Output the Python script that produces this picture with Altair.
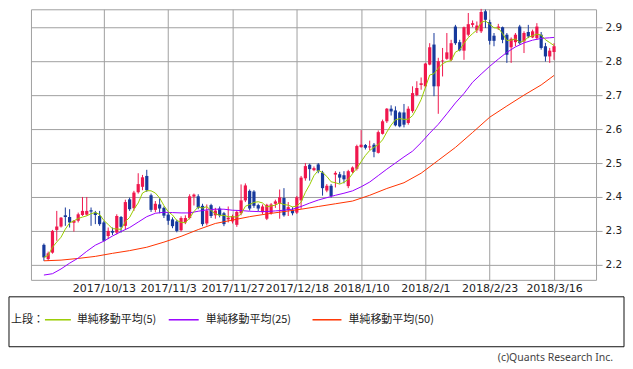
import altair as alt
import pandas as pd

# ---------------- data ----------------
opens = [2.259, 2.217, 2.236, 2.303, 2.313, 2.346, 2.341, 2.324, 2.330, 2.347,
         2.348, 2.361, 2.354, 2.344, 2.325, 2.285, 2.300, 2.295, 2.341, 2.315,
         2.393, 2.367, 2.414, 2.430, 2.462, 2.405, 2.362, 2.378, 2.368, 2.348,
         2.334, 2.328, 2.302, 2.325, 2.338, 2.401, 2.402, 2.374, 2.322, 2.376,
         2.346, 2.366, 2.352, 2.334, 2.328, 2.318, 2.352, 2.390, 2.418, 2.416,
         2.376, 2.355, 2.336, 2.352, 2.380, 2.380, 2.397, 2.362, 2.362, 2.354,
         2.390, 2.455, 2.495, 2.479, 2.496, 2.472, 2.419, 2.433, 2.466, 2.467,
         2.464, 2.432, 2.474, 2.483, 2.547, 2.553, 2.546, 2.554, 2.530, 2.586,
         2.623, 2.660, 2.655, 2.649, 2.649, 2.618, 2.653, 2.700, 2.730, 2.726,
         2.790, 2.849, 2.726, 2.800, 2.807, 2.804, 2.902, 2.856, 2.831, 2.878,
         2.907, 2.891, 2.888, 2.947, 2.915, 2.875, 2.897, 2.900, 2.878, 2.841,
         2.856, 2.902, 2.858, 2.886, 2.870, 2.868, 2.878, 2.844, 2.814, 2.827]
highs = [2.263, 2.239, 2.303, 2.359, 2.341, 2.369, 2.364, 2.332, 2.354, 2.400,
         2.400, 2.369, 2.359, 2.359, 2.330, 2.310, 2.310, 2.349, 2.344, 2.392,
         2.398, 2.418, 2.470, 2.465, 2.480, 2.410, 2.388, 2.396, 2.372, 2.354,
         2.340, 2.333, 2.343, 2.346, 2.408, 2.410, 2.408, 2.380, 2.378, 2.380,
         2.368, 2.372, 2.356, 2.372, 2.348, 2.360, 2.437, 2.440, 2.422, 2.420,
         2.380, 2.378, 2.380, 2.382, 2.392, 2.422, 2.426, 2.385, 2.370, 2.403,
         2.462, 2.500, 2.498, 2.490, 2.500, 2.477, 2.438, 2.438, 2.476, 2.474,
         2.476, 2.480, 2.490, 2.554, 2.597, 2.556, 2.566, 2.559, 2.596, 2.628,
         2.662, 2.670, 2.667, 2.652, 2.674, 2.667, 2.726, 2.741, 2.752, 2.795,
         2.853, 2.883, 2.810, 2.839, 2.883, 2.863, 2.907, 2.863, 2.902, 2.942,
         2.920, 2.917, 2.954, 2.952, 2.922, 2.883, 2.910, 2.902, 2.883, 2.870,
         2.883, 2.907, 2.888, 2.907, 2.893, 2.912, 2.886, 2.854, 2.839, 2.853]
lows = [2.212, 2.212, 2.233, 2.271, 2.310, 2.315, 2.310, 2.298, 2.325, 2.344,
        2.345, 2.315, 2.320, 2.315, 2.269, 2.276, 2.288, 2.290, 2.295, 2.305,
        2.359, 2.359, 2.410, 2.420, 2.415, 2.356, 2.355, 2.352, 2.338, 2.318,
        2.308, 2.296, 2.298, 2.320, 2.334, 2.375, 2.364, 2.314, 2.316, 2.338,
        2.336, 2.340, 2.314, 2.325, 2.322, 2.312, 2.346, 2.385, 2.360, 2.368,
        2.358, 2.350, 2.332, 2.348, 2.368, 2.336, 2.342, 2.344, 2.346, 2.350,
        2.365, 2.448, 2.448, 2.476, 2.470, 2.404, 2.414, 2.398, 2.428, 2.440,
        2.440, 2.426, 2.470, 2.478, 2.545, 2.540, 2.538, 2.517, 2.528, 2.584,
        2.618, 2.640, 2.608, 2.605, 2.605, 2.613, 2.648, 2.697, 2.716, 2.721,
        2.788, 2.697, 2.645, 2.755, 2.804, 2.800, 2.848, 2.829, 2.804, 2.873,
        2.900, 2.883, 2.883, 2.898, 2.849, 2.844, 2.892, 2.853, 2.795, 2.795,
        2.844, 2.849, 2.824, 2.868, 2.868, 2.863, 2.834, 2.799, 2.795, 2.804]
closes = [2.222, 2.234, 2.300, 2.313, 2.339, 2.341, 2.325, 2.330, 2.349, 2.359,
          2.359, 2.357, 2.347, 2.320, 2.271, 2.300, 2.295, 2.344, 2.312, 2.385,
          2.364, 2.413, 2.438, 2.458, 2.420, 2.362, 2.380, 2.366, 2.345, 2.330,
          2.314, 2.300, 2.338, 2.338, 2.402, 2.407, 2.369, 2.320, 2.360, 2.344,
          2.360, 2.346, 2.320, 2.339, 2.344, 2.356, 2.390, 2.434, 2.366, 2.374,
          2.366, 2.372, 2.377, 2.378, 2.387, 2.399, 2.346, 2.370, 2.352, 2.399,
          2.457, 2.491, 2.482, 2.485, 2.477, 2.426, 2.433, 2.403, 2.471, 2.457,
          2.452, 2.476, 2.487, 2.550, 2.554, 2.545, 2.549, 2.533, 2.591, 2.623,
          2.660, 2.652, 2.611, 2.608, 2.613, 2.660, 2.706, 2.721, 2.735, 2.793,
          2.841, 2.726, 2.800, 2.802, 2.826, 2.853, 2.853, 2.832, 2.900, 2.909,
          2.912, 2.905, 2.945, 2.922, 2.860, 2.860, 2.902, 2.863, 2.819, 2.866,
          2.878, 2.853, 2.883, 2.873, 2.888, 2.902, 2.839, 2.814, 2.831, 2.844]

ma25_idx = list(range(0, 119, 2)) + [119]
ma25_val = [2.170, 2.174, 2.188, 2.205, 2.220, 2.240, 2.258, 2.270, 2.285, 2.298,
            2.310, 2.326, 2.342, 2.352, 2.355, 2.354, 2.353, 2.353, 2.358, 2.362,
            2.364, 2.364, 2.361, 2.360, 2.358, 2.357, 2.357, 2.359, 2.361, 2.364,
            2.372, 2.382, 2.391, 2.398, 2.405, 2.411, 2.418, 2.430, 2.444, 2.463,
            2.482, 2.500, 2.518, 2.535, 2.560, 2.588, 2.614, 2.645, 2.677, 2.705,
            2.738, 2.762, 2.785, 2.806, 2.826, 2.842, 2.854, 2.862, 2.867, 2.869,
            2.870]

ma50_idx = list(range(0, 119, 4)) + [119]
ma50_val = [2.212, 2.214, 2.219, 2.225, 2.234, 2.242, 2.252, 2.267, 2.284, 2.304,
            2.322, 2.332, 2.342, 2.350, 2.357, 2.364, 2.372, 2.380, 2.388, 2.405,
            2.425, 2.442, 2.470, 2.508, 2.546, 2.590, 2.635, 2.668, 2.700, 2.730,
            2.758]

x_tick_idx = [14, 29, 44, 59, 74, 89, 104, 119]
x_tick_labels = ["2017/10/13", "2017/11/3", "2017/11/27", "2017/12/18",
                 "2018/1/10", "2018/2/1", "2018/2/23", "2018/3/16"]
y_ticks = [2.2, 2.3, 2.4, 2.5, 2.6, 2.7, 2.8, 2.9]

legend_title = "上段："
legend_labels = ["単純移動平均(5)", "単純移動平均(25)", "単純移動平均(50)"]
copyright_text = "(c)Quants Research Inc."

# ---------------- styles ----------------
UP = "#f0174d"
DOWN = "#17399c"
MA_COLORS = ["#99cc00", "#9900ff", "#ff3300"]
GRID = "#a0a0a0"
FONT = "DejaVu Sans"
JFONT = "Noto Sans CJK JP"

W, H = 566, 271

candles = pd.DataFrame({
    "i": list(range(len(closes))),
    "o": opens, "h": highs, "l": lows, "c": closes,
})
candles["dir"] = ["up" if c >= o else "down" for o, c in zip(opens, closes)]
candles["lo"] = candles[["o", "c"]].min(axis=1)
candles["hi"] = candles[["o", "c"]].max(axis=1)

ma25_df = pd.DataFrame({"i": ma25_idx, "v": ma25_val})
ma50_df = pd.DataFrame({"i": ma50_idx, "v": ma50_val})

label_expr = " : ".join(
    f"datum.value == {k} ? '{s}'" for k, s in zip(x_tick_idx, x_tick_labels)
) + " : ''"

x_scale = alt.Scale(domain=[-1.853, 127.64], nice=False, zero=False)
y_scale = alt.Scale(domain=[2.1559, 2.9529], nice=False, zero=False)

x_axis = alt.Axis(values=x_tick_idx, labelExpr=label_expr, grid=True,
                  gridColor=GRID, gridOpacity=1, ticks=False, domain=False,
                  labelFont=FONT, labelFontSize=11, labelColor="#222",
                  labelPadding=3, labelOverlap=False, labelFlush=False)
y_axis = alt.Axis(values=y_ticks, format=".1f", orient="right", grid=True,
                  gridColor=GRID, gridOpacity=1, tickColor=GRID, tickSize=6,
                  domain=False, labelFont=FONT, labelFontSize=10.5,
                  labelColor="#222", labelPadding=3, labelOverlap=False)


def X():
    return alt.X("i:Q", scale=x_scale, axis=x_axis, title=None)


def Y(field):
    return alt.Y(field, scale=y_scale, axis=y_axis, title=None)


color = alt.Color("dir:N", scale=alt.Scale(domain=["up", "down"], range=[UP, DOWN]),
                  legend=None)

base = alt.Chart(candles)
wicks = base.mark_rule(strokeWidth=1).encode(
    x=X(), y=Y("l:Q"), y2="h:Q", color=color)
bodies = base.mark_bar(size=3.2).encode(
    x=X(), y=Y("lo:Q"), y2="hi:Q", color=color)
ma5 = base.transform_window(
    ma5="mean(c)", frame=[-4, 0], sort=[alt.SortField("i")]
).mark_line(color=MA_COLORS[0], strokeWidth=1).encode(x=X(), y=Y("ma5:Q"))
ma25 = alt.Chart(ma25_df).mark_line(color=MA_COLORS[1], strokeWidth=1).encode(
    x=X(), y=Y("v:Q"))
ma50 = alt.Chart(ma50_df).mark_line(color=MA_COLORS[2], strokeWidth=1).encode(
    x=X(), y=Y("v:Q"))

one = pd.DataFrame({"k": [0]})
legend_box = alt.Chart(one).mark_rect(fill="white", stroke="#111", strokeWidth=1).encode(
    x=alt.value(-22), x2=alt.value(594), y=alt.value(288), y2=alt.value(338))
legend_layers = [legend_box,
                 alt.Chart(one).mark_text(text=legend_title, align="left", baseline="middle",
                                          font=JFONT, fontSize=11, color="#222").encode(
                     x=alt.value(-20), y=alt.value(311))]
line_x = [(14, 40), (138, 168), (282, 311)]
text_x = [46, 175, 318]
for (xa, xb), tx, lab, col in zip(line_x, text_x, legend_labels, MA_COLORS):
    legend_layers.append(
        alt.Chart(one).mark_rule(color=col, strokeWidth=1.5).encode(
            x=alt.value(xa), x2=alt.value(xb), y=alt.value(311)))
    legend_layers.append(
        alt.Chart(one).mark_text(text=lab, align="left", baseline="middle",
                                 font=JFONT, fontSize=11, color="#222").encode(
            x=alt.value(tx), y=alt.value(311)))
copyright = alt.Chart(one).mark_text(text=copyright_text, align="right", baseline="middle",
                                     font="Noto Sans", fontSize=10.5, color="#444").encode(
    x=alt.value(583), y=alt.value(349))

chart = alt.layer(wicks, bodies, ma50, ma25, ma5, *legend_layers, copyright).properties(
    width=W, height=H, padding=0
).configure_view(stroke=GRID, strokeWidth=1)

chart.save("out.html", embed_options={"renderer": "svg", "actions": False})
